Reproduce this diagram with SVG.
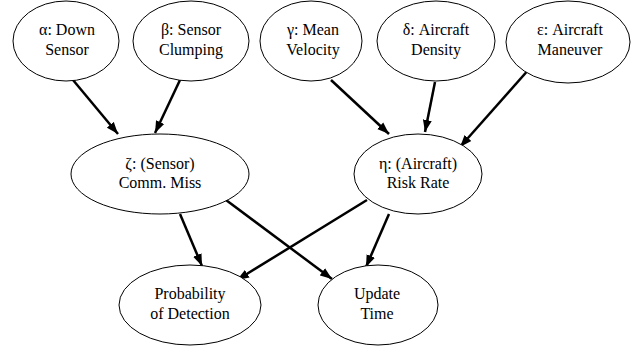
<svg xmlns="http://www.w3.org/2000/svg" width="641" height="349" viewBox="0 0 641 349">
<style>
.n ellipse{fill:#fff;stroke:#000;stroke-width:1}
.n text{font-family:"Liberation Serif","Times New Roman",serif;font-size:16px;fill:#000;text-anchor:middle}
.e line{stroke:#000;stroke-width:2.5;marker-end:url(#ah)}
</style>
<defs>
<marker id="ah" markerUnits="userSpaceOnUse" markerWidth="13" markerHeight="10" refX="12" refY="5" orient="auto">
<path d="M0,0.5 L12,5 L0,9.5 z" fill="#000"/>
</marker>
</defs>
<rect width="641" height="349" fill="#fff"/>
<g id="edges" class="e">
<line x1="73" y1="80" x2="118" y2="134"/>
<line x1="180" y1="80" x2="155" y2="133"/>
<line x1="331" y1="80" x2="389" y2="134"/>
<line x1="435" y1="82" x2="425" y2="132"/>
<line x1="530" y1="68" x2="460" y2="147"/>
<line x1="180" y1="214" x2="202" y2="266"/>
<line x1="226" y1="200" x2="332" y2="279"/>
<line x1="367" y1="200" x2="237" y2="280"/>
<line x1="389" y1="214" x2="366" y2="267"/>
</g>
<g id="alpha" class="n"><ellipse cx="66" cy="41" rx="53" ry="40"/><text x="67" y="35">α: Down</text><text x="67" y="55">Sensor</text></g>
<g id="beta" class="n"><ellipse cx="191" cy="41" rx="58" ry="40"/><text x="191" y="35">β: Sensor</text><text x="191" y="55">Clumping</text></g>
<g id="gamma" class="n"><ellipse cx="311" cy="41" rx="51" ry="40"/><text x="313" y="35">γ: Mean</text><text x="313" y="55">Velocity</text></g>
<g id="delta" class="n"><ellipse cx="436" cy="41" rx="59" ry="40"/><text x="436" y="35">δ: Aircraft</text><text x="436" y="55">Density</text></g>
<g id="epsilon" class="n"><ellipse cx="568" cy="42" rx="62" ry="41"/><text x="570" y="35">ε: Aircraft</text><text x="570" y="55">Maneuver</text></g>
<g id="zeta" class="n"><ellipse cx="160" cy="174" rx="89" ry="40"/><text x="160" y="169">ζ: (Sensor)</text><text x="160" y="188">Comm. Miss</text></g>
<g id="eta" class="n"><ellipse cx="418" cy="174" rx="64" ry="40"/><text x="418" y="169">η: (Aircraft)</text><text x="418" y="188">Risk Rate</text></g>
<g id="prob" class="n"><ellipse cx="190" cy="305" rx="71" ry="40"/><text x="190" y="299">Probability</text><text x="190" y="319">of Detection</text></g>
<g id="update" class="n"><ellipse cx="378" cy="305" rx="60" ry="40"/><text x="377" y="299">Update</text><text x="377" y="319">Time</text></g>
</svg>
